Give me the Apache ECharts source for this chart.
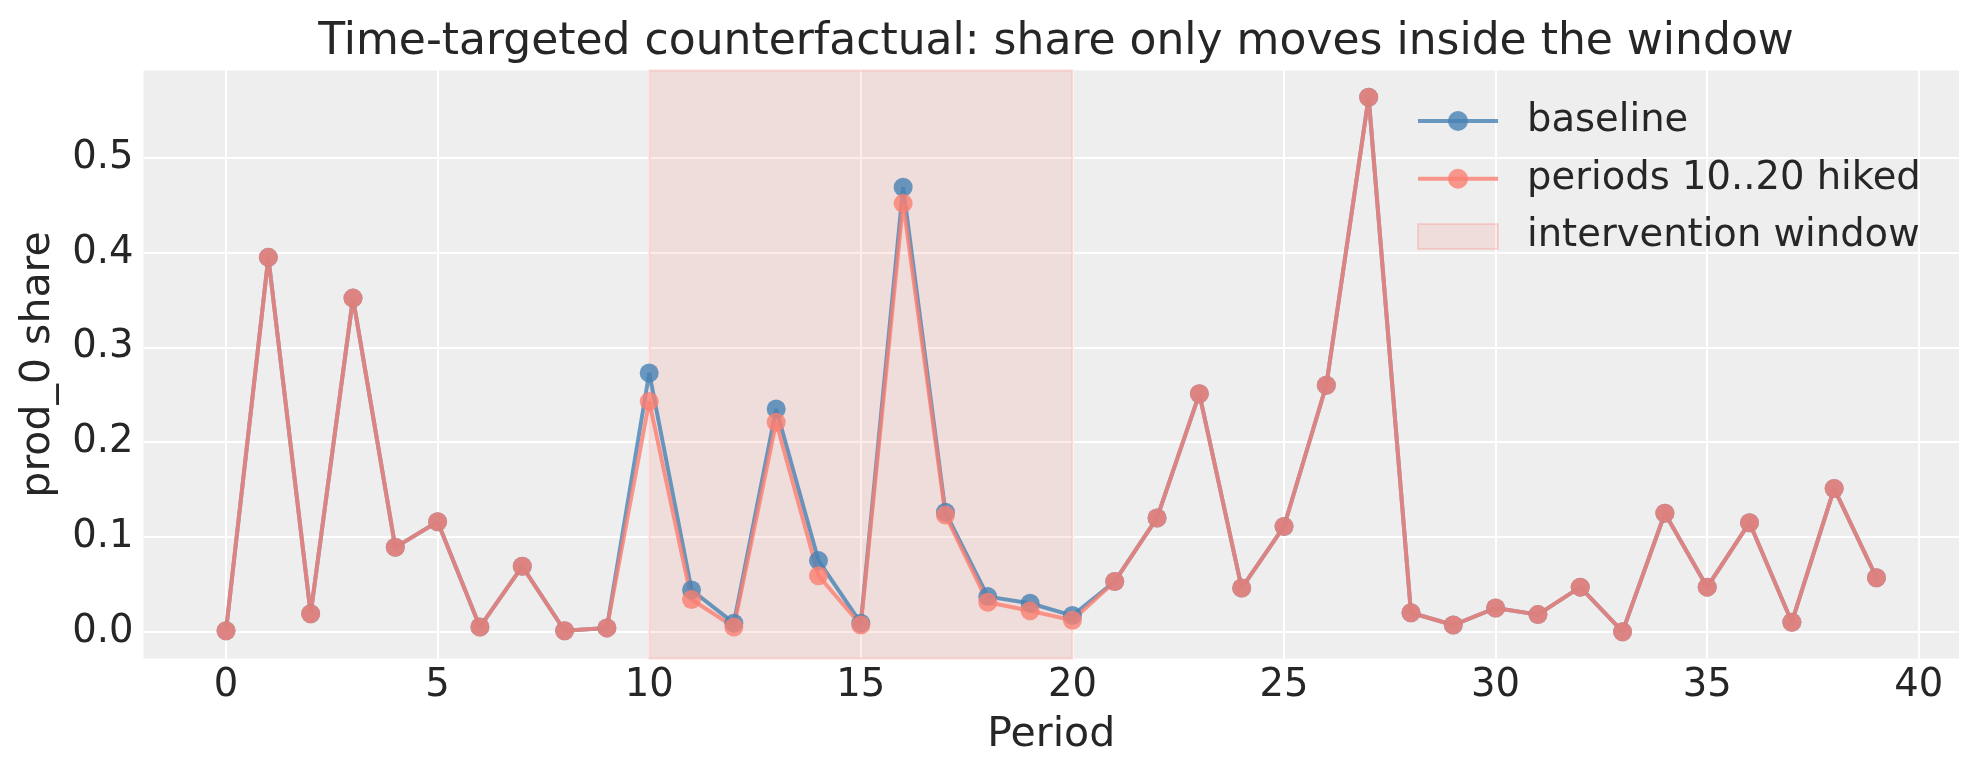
<!DOCTYPE html>
<html>
<head>
<meta charset="utf-8">
<script src="https://cdn.jsdelivr.net/npm/echarts@6/dist/echarts.min.js"></script>
<style>
  html, body { margin: 0; padding: 0; background: #ffffff; }
  #chart { width: 1978px; height: 777px; }
</style>
</head>
<body>
<div id="chart"></div>
<script>
// ---- data ----
const periods = Array.from({ length: 40 }, (_, i) => i);
const baseline = [0.001, 0.395, 0.019, 0.352, 0.089, 0.116, 0.005, 0.069, 0.001, 0.004,
                  0.273, 0.044, 0.009, 0.235, 0.075, 0.009, 0.469, 0.126, 0.037, 0.030,
                  0.017, 0.053, 0.120, 0.251, 0.046, 0.111, 0.260, 0.564, 0.020, 0.007,
                  0.025, 0.018, 0.047, 0.000, 0.125, 0.047, 0.115, 0.010, 0.151, 0.057];
const hiked    = [0.001, 0.395, 0.019, 0.352, 0.089, 0.116, 0.005, 0.069, 0.001, 0.004,
                  0.243, 0.034, 0.005, 0.221, 0.059, 0.007, 0.452, 0.123, 0.031, 0.022,
                  0.012, 0.053, 0.120, 0.251, 0.046, 0.111, 0.260, 0.564, 0.020, 0.007,
                  0.025, 0.018, 0.047, 0.000, 0.125, 0.047, 0.115, 0.010, 0.151, 0.057];
const windowStart = 10;
const windowEnd = 20;
const xTicks = [0, 5, 10, 15, 20, 25, 30, 35, 40];
const yTicks = [0, 0.1, 0.2, 0.3, 0.4, 0.5];

const xMin = -1.95, xMax = 40.95;
const yMin = -0.0282, yMax = 0.5922;

const TEXT = '#262626';
const FONT = 'DejaVu Sans';
const BLUE = 'rgba(70,130,180,0.8)';
const SALMON = 'rgba(250,128,114,0.8)';
const SPAN_FILL = 'rgba(250,128,114,0.15)';
const SPAN_EDGE = 'rgba(250,128,114,0.25)';

const chart = echarts.init(document.getElementById('chart'), null, { renderer: 'canvas' });

function pairs(ys) { return periods.map((x, i) => [x, ys[i]]); }

const option = {
  animation: false,
  backgroundColor: '#ffffff',
  textStyle: { fontFamily: FONT, color: TEXT },
  title: {
    text: 'Time-targeted counterfactual: share only moves inside the window',
    left: 1051, top: 16, textAlign: 'center',
    textStyle: { fontFamily: FONT, fontSize: 44, fontWeight: 'normal', color: TEXT }
  },
  grid: {
    left: 143.5, right: 19, top: 70.5, bottom: 118.6,
    show: true, backgroundColor: '#eeeeee', borderWidth: 0, containLabel: false
  },
  legend: {
    orient: 'vertical', left: 1416, top: 101, padding: 0,
    itemWidth: 80, itemHeight: 25, itemGap: 17.7,
    lineStyle: { width: 4 },
    textStyle: { fontFamily: FONT, fontSize: 38.5, color: TEXT, lineHeight: 40, padding: [0, 0, 0, 24] },
    data: [
      { name: 'baseline', lineStyle: { width: 4, color: BLUE } },
      { name: 'periods 10..20 hiked', lineStyle: { width: 4, color: SALMON } },
      { name: 'intervention window', icon: 'rect',
        itemStyle: { color: SPAN_FILL, borderColor: SPAN_EDGE, borderWidth: 2 } }
    ]
  },
  xAxis: {
    type: 'value', min: xMin, max: xMax,
    name: 'Period', nameLocation: 'middle', nameGap: 56,
    nameTextStyle: { fontFamily: FONT, fontSize: 41, color: TEXT },
    axisLine: { show: false },
    axisTick: { show: false, customValues: xTicks },
    axisLabel: { fontFamily: FONT, fontSize: 38.5, color: TEXT, margin: 8, customValues: xTicks },
    splitLine: { show: true, lineStyle: { color: '#ffffff', width: 2 }, customValues: xTicks }
  },
  yAxis: {
    type: 'value', min: yMin, max: yMax,
    name: 'prod_0 share', nameLocation: 'middle', nameGap: 85,
    nameTextStyle: { fontFamily: FONT, fontSize: 41, color: TEXT },
    axisLine: { show: false },
    axisTick: { show: false, customValues: yTicks },
    axisLabel: { fontFamily: FONT, fontSize: 38.5, color: TEXT, margin: 10,
                 customValues: yTicks, formatter: v => v.toFixed(1) },
    splitLine: { show: true, lineStyle: { color: '#ffffff', width: 2 }, customValues: yTicks }
  },
  series: [
    {
      name: 'intervention window', type: 'line', data: [],
      itemStyle: { color: SPAN_FILL },
      markArea: {
        silent: true,
        itemStyle: { color: SPAN_FILL, borderColor: SPAN_EDGE, borderWidth: 2 },
        data: [[{ xAxis: windowStart }, { xAxis: windowEnd }]]
      }
    },
    {
      name: 'baseline', type: 'line', data: pairs(baseline),
      symbol: 'circle', symbolSize: 19, showAllSymbol: true,
      lineStyle: { color: BLUE, width: 4 },
      itemStyle: { color: BLUE },
      emphasis: { disabled: true }
    },
    {
      name: 'periods 10..20 hiked', type: 'line', data: pairs(hiked),
      symbol: 'circle', symbolSize: 19, showAllSymbol: true,
      lineStyle: { color: SALMON, width: 4 },
      itemStyle: { color: SALMON },
      emphasis: { disabled: true }
    }
  ]
};

chart.setOption(option);
</script>
</body>
</html>
